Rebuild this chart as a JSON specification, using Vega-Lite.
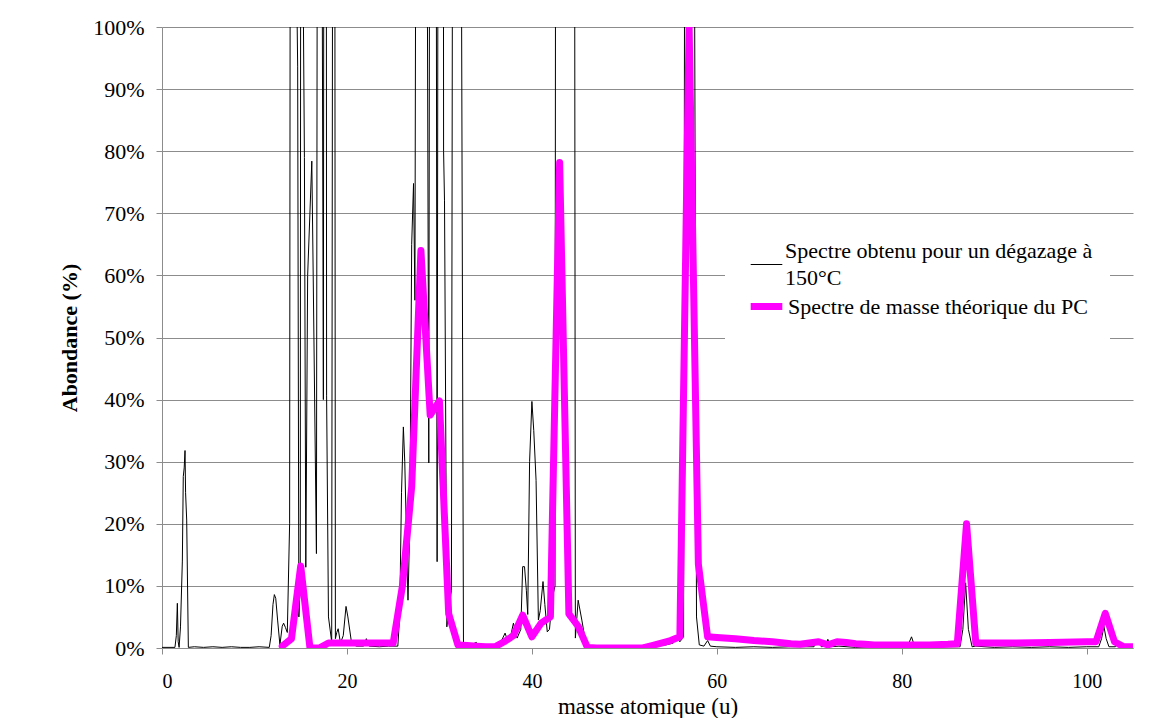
{
  "$schema": "https://vega.github.io/schema/vega-lite/v6.json",
  "width": 971,
  "height": 621,
  "autosize": {"type": "none"},
  "padding": {"left": 162, "top": 27, "right": 27, "bottom": 70},
  "background": "white",
  "config": {
    "view": {"stroke": null},
    "font": "Liberation Serif, Times New Roman, serif",
    "style": {"guide-label": {"font": "Liberation Serif, Times New Roman, serif", "lineHeight": 27}, "guide-title": {"font": "Liberation Serif, Times New Roman, serif"}},
    "axis": {"labelFont": "Liberation Serif, Times New Roman, serif", "titleFont": "Liberation Serif, Times New Roman, serif", "labelColor": "black", "titleColor": "black", "domainColor": "#8c8c8c", "tickColor": "#8c8c8c", "gridColor": "#8c8c8c"}
  },
  "datasets": {
    "spectre": [
      {"m":0,"v":0.1,"s":"obs"},{"m":1.4,"v":0.1,"s":"obs"},{"m":1.55,"v":2,"s":"obs"},{"m":1.66,"v":7.2,"s":"obs"},{"m":1.75,"v":1,"s":"obs"},{"m":1.85,"v":0.1,"s":"obs"},{"m":2.0,"v":3.4,"s":"obs"},{"m":2.2,"v":14,"s":"obs"},{"m":2.3,"v":27.6,"s":"obs"},{"m":2.4,"v":29,"s":"obs"},{"m":2.49,"v":31.8,"s":"obs"},{"m":2.55,"v":25,"s":"obs"},{"m":2.67,"v":20.6,"s":"obs"},{"m":2.85,"v":0.1,"s":"obs"},
      {"m":3.5,"v":0.2,"s":"obs"},{"m":4.5,"v":0.1,"s":"obs"},{"m":5.5,"v":0.2,"s":"obs"},{"m":6.5,"v":0.1,"s":"obs"},{"m":7.5,"v":0.2,"s":"obs"},{"m":8.5,"v":0.1,"s":"obs"},{"m":9.5,"v":0.1,"s":"obs"},{"m":10.5,"v":0.2,"s":"obs"},{"m":11.6,"v":0.1,"s":"obs"},
      {"m":11.8,"v":2,"s":"obs"},{"m":12.0,"v":7,"s":"obs"},{"m":12.15,"v":8.6,"s":"obs"},{"m":12.3,"v":8,"s":"obs"},{"m":12.5,"v":4.5,"s":"obs"},{"m":12.75,"v":0.5,"s":"obs"},{"m":13.0,"v":3.5,"s":"obs"},{"m":13.15,"v":4,"s":"obs"},{"m":13.35,"v":3.3,"s":"obs"},{"m":13.55,"v":2.5,"s":"obs"},
      {"m":13.8,"v":20,"s":"obs"},{"m":13.95,"v":250,"s":"obs"},{"m":14.3,"v":140,"s":"obs"},{"m":14.67,"v":93.7,"s":"obs"},{"m":14.8,"v":5,"s":"obs"},{"m":14.95,"v":10,"s":"obs"},{"m":15.05,"v":250,"s":"obs"},{"m":15.2,"v":120,"s":"obs"},{"m":15.4,"v":79,"s":"obs"},{"m":15.55,"v":13,"s":"obs"},{"m":15.75,"v":60,"s":"obs"},{"m":16.2,"v":78.4,"s":"obs"},{"m":16.35,"v":60,"s":"obs"},{"m":16.7,"v":15.2,"s":"obs"},{"m":16.95,"v":300,"s":"obs"},{"m":17.25,"v":150,"s":"obs"},{"m":17.45,"v":40,"s":"obs"},{"m":17.6,"v":300,"s":"obs"},{"m":17.7,"v":300,"s":"obs"},{"m":17.8,"v":40.6,"s":"obs"},{"m":18.0,"v":5,"s":"obs"},{"m":18.35,"v":1,"s":"obs"},{"m":18.6,"v":300,"s":"obs"},{"m":18.75,"v":1.5,"s":"obs"},
      {"m":18.9,"v":2.5,"s":"obs"},{"m":19.05,"v":3.1,"s":"obs"},{"m":19.3,"v":0.8,"s":"obs"},{"m":19.6,"v":2,"s":"obs"},{"m":19.9,"v":6.7,"s":"obs"},{"m":20.1,"v":5,"s":"obs"},{"m":20.5,"v":0.8,"s":"obs"},{"m":21.0,"v":0.3,"s":"obs"},{"m":21.8,"v":0.3,"s":"obs"},{"m":22.1,"v":1.5,"s":"obs"},{"m":22.4,"v":0.3,"s":"obs"},{"m":23.5,"v":0.2,"s":"obs"},{"m":24.5,"v":0.3,"s":"obs"},{"m":25.5,"v":0.3,"s":"obs"},
      {"m":25.7,"v":5,"s":"obs"},{"m":25.9,"v":25,"s":"obs"},{"m":26.1,"v":35.6,"s":"obs"},{"m":26.25,"v":30,"s":"obs"},{"m":26.6,"v":7.7,"s":"obs"},{"m":26.8,"v":20,"s":"obs"},{"m":27.0,"v":65,"s":"obs"},{"m":27.2,"v":74.8,"s":"obs"},{"m":27.35,"v":56,"s":"obs"},{"m":27.7,"v":300,"s":"obs"},{"m":28.3,"v":300,"s":"obs"},{"m":28.85,"v":29.8,"s":"obs"},{"m":29.1,"v":300,"s":"obs"},{"m":29.5,"v":300,"s":"obs"},{"m":29.75,"v":13.9,"s":"obs"},{"m":30.0,"v":300,"s":"obs"},{"m":30.35,"v":300,"s":"obs"},{"m":30.45,"v":80,"s":"obs"},{"m":30.55,"v":72,"s":"obs"},{"m":30.8,"v":3.4,"s":"obs"},{"m":31.0,"v":6,"s":"obs"},{"m":31.3,"v":9.3,"s":"obs"},{"m":31.6,"v":300,"s":"obs"},{"m":32.0,"v":300,"s":"obs"},{"m":32.6,"v":0.5,"s":"obs"},
      {"m":33.0,"v":0.3,"s":"obs"},{"m":34.0,"v":0.9,"s":"obs"},{"m":34.3,"v":0.2,"s":"obs"},{"m":35.5,"v":0.3,"s":"obs"},{"m":36.5,"v":0.5,"s":"obs"},{"m":37.1,"v":2.4,"s":"obs"},{"m":37.3,"v":1.5,"s":"obs"},{"m":37.6,"v":1.2,"s":"obs"},{"m":38.0,"v":4,"s":"obs"},{"m":38.4,"v":1.6,"s":"obs"},{"m":38.8,"v":3,"s":"obs"},{"m":39.0,"v":13.1,"s":"obs"},{"m":39.2,"v":13.1,"s":"obs"},{"m":39.4,"v":9.3,"s":"obs"},{"m":39.55,"v":5.4,"s":"obs"},{"m":39.75,"v":30,"s":"obs"},{"m":40.0,"v":39.7,"s":"obs"},{"m":40.2,"v":35,"s":"obs"},{"m":40.45,"v":27,"s":"obs"},{"m":40.7,"v":4.5,"s":"obs"},{"m":40.9,"v":6,"s":"obs"},{"m":41.2,"v":10.7,"s":"obs"},{"m":41.4,"v":7,"s":"obs"},{"m":41.66,"v":2.6,"s":"obs"},{"m":41.9,"v":3,"s":"obs"},{"m":42.2,"v":8,"s":"obs"},{"m":42.5,"v":10,"s":"obs"},
      {"m":42.65,"v":300,"s":"obs"},{"m":42.9,"v":150,"s":"obs"},{"m":43.0,"v":300,"s":"obs"},{"m":43.2,"v":200,"s":"obs"},{"m":43.5,"v":150,"s":"obs"},{"m":43.8,"v":300,"s":"obs"},{"m":43.95,"v":250,"s":"obs"},{"m":44.3,"v":120,"s":"obs"},{"m":44.5,"v":300,"s":"obs"},{"m":44.7,"v":1.6,"s":"obs"},{"m":45.0,"v":7.7,"s":"obs"},{"m":45.4,"v":4.5,"s":"obs"},{"m":45.8,"v":1,"s":"obs"},{"m":46.2,"v":0.2,"s":"obs"},
      {"m":47.5,"v":0.1,"s":"obs"},{"m":49,"v":0.2,"s":"obs"},{"m":51,"v":0.1,"s":"obs"},{"m":53,"v":0.2,"s":"obs"},{"m":54.5,"v":0.5,"s":"obs"},{"m":55.3,"v":0.8,"s":"obs"},{"m":55.6,"v":2,"s":"obs"},{"m":56.0,"v":1,"s":"obs"},{"m":56.4,"v":1.8,"s":"obs"},{"m":56.7,"v":300,"s":"obs"},{"m":57.2,"v":300,"s":"obs"},{"m":57.5,"v":150,"s":"obs"},{"m":57.8,"v":5,"s":"obs"},{"m":58.1,"v":0.5,"s":"obs"},{"m":58.6,"v":0.3,"s":"obs"},{"m":59.0,"v":1.2,"s":"obs"},{"m":59.3,"v":0.3,"s":"obs"},
      {"m":60,"v":0.2,"s":"obs"},{"m":62,"v":0.1,"s":"obs"},{"m":64,"v":0.2,"s":"obs"},{"m":66,"v":0.1,"s":"obs"},{"m":68,"v":0.2,"s":"obs"},{"m":70.5,"v":0.2,"s":"obs"},{"m":70.95,"v":1.3,"s":"obs"},{"m":71.3,"v":0.2,"s":"obs"},{"m":71.7,"v":0.3,"s":"obs"},{"m":72.0,"v":1.4,"s":"obs"},{"m":72.3,"v":0.2,"s":"obs"},{"m":73.2,"v":0.3,"s":"obs"},{"m":75,"v":0.1,"s":"obs"},{"m":77,"v":0.2,"s":"obs"},{"m":79,"v":0.1,"s":"obs"},{"m":80.6,"v":0.2,"s":"obs"},{"m":81.05,"v":1.8,"s":"obs"},{"m":81.4,"v":0.2,"s":"obs"},{"m":83,"v":0.1,"s":"obs"},{"m":85,"v":0.2,"s":"obs"},{"m":86.3,"v":0.2,"s":"obs"},{"m":86.6,"v":3,"s":"obs"},{"m":86.9,"v":10.5,"s":"obs"},{"m":87.2,"v":3,"s":"obs"},{"m":87.6,"v":0.2,"s":"obs"},{"m":88,"v":0.3,"s":"obs"},{"m":90,"v":0.1,"s":"obs"},{"m":92,"v":0.2,"s":"obs"},{"m":94,"v":0.1,"s":"obs"},{"m":96,"v":0.2,"s":"obs"},{"m":98,"v":0.1,"s":"obs"},{"m":100,"v":0.2,"s":"obs"},{"m":101.3,"v":0.2,"s":"obs"},{"m":101.6,"v":1.5,"s":"obs"},{"m":101.85,"v":3.5,"s":"obs"},{"m":102.1,"v":1.5,"s":"obs"},{"m":102.4,"v":0.2,"s":"obs"},{"m":103.1,"v":0.2,"s":"obs"},{"m":103.4,"v":0.8,"s":"obs"},{"m":103.7,"v":0.2,"s":"obs"},{"m":105,"v":0.1,"s":"obs"},
      {"m":13,"v":0.3,"s":"th"},{"m":14,"v":1.5,"s":"th"},{"m":15,"v":13.2,"s":"th"},{"m":16,"v":0,"s":"th"},{"m":17,"v":0,"s":"th"},{"m":18,"v":0.8,"s":"th"},{"m":19,"v":0.8,"s":"th"},{"m":20,"v":0.8,"s":"th"},{"m":21,"v":0.8,"s":"th"},{"m":22,"v":0.8,"s":"th"},{"m":23,"v":0.8,"s":"th"},{"m":24,"v":0.8,"s":"th"},{"m":25,"v":0.8,"s":"th"},{"m":26,"v":10,"s":"th"},{"m":27,"v":26,"s":"th"},{"m":28,"v":64,"s":"th"},{"m":29,"v":37.5,"s":"th"},{"m":30,"v":39.8,"s":"th"},{"m":31,"v":5.5,"s":"th"},{"m":32,"v":0.5,"s":"th"},{"m":33,"v":0.4,"s":"th"},{"m":34,"v":0.3,"s":"th"},{"m":35,"v":0.2,"s":"th"},{"m":36,"v":0.2,"s":"th"},{"m":37,"v":1,"s":"th"},{"m":38,"v":2,"s":"th"},{"m":39,"v":5.3,"s":"th"},{"m":40,"v":1.8,"s":"th"},{"m":41,"v":4,"s":"th"},{"m":42,"v":5,"s":"th"},{"m":43,"v":78.2,"s":"th"},{"m":44,"v":5.5,"s":"th"},{"m":45,"v":3.5,"s":"th"},{"m":46,"v":0.1,"s":"th"},{"m":47,"v":0,"s":"th"},{"m":48,"v":0,"s":"th"},{"m":49,"v":0,"s":"th"},{"m":50,"v":0,"s":"th"},{"m":51,"v":0,"s":"th"},{"m":52,"v":0,"s":"th"},{"m":53,"v":0.4,"s":"th"},{"m":54,"v":0.8,"s":"th"},{"m":55,"v":1.2,"s":"th"},{"m":56,"v":1.8,"s":"th"},{"m":57,"v":100,"s":"th"},{"m":58,"v":13.5,"s":"th"},{"m":59,"v":1.8,"s":"th"},{"m":60,"v":1.7,"s":"th"},{"m":62,"v":1.5,"s":"th"},{"m":64,"v":1.2,"s":"th"},{"m":66,"v":1.0,"s":"th"},{"m":68,"v":0.7,"s":"th"},{"m":69,"v":0.6,"s":"th"},{"m":70,"v":0.8,"s":"th"},{"m":71,"v":1.0,"s":"th"},{"m":72,"v":0.5,"s":"th"},{"m":73,"v":1.0,"s":"th"},{"m":74,"v":0.9,"s":"th"},{"m":75,"v":0.7,"s":"th"},{"m":76,"v":0.6,"s":"th"},{"m":77,"v":0.5,"s":"th"},{"m":80,"v":0.5,"s":"th"},{"m":83,"v":0.5,"s":"th"},{"m":85,"v":0.6,"s":"th"},{"m":86,"v":0.7,"s":"th"},{"m":87,"v":20,"s":"th"},{"m":88,"v":0.8,"s":"th"},{"m":92,"v":0.8,"s":"th"},{"m":96,"v":0.9,"s":"th"},{"m":100,"v":1.0,"s":"th"},{"m":101,"v":1.0,"s":"th"},{"m":102,"v":5.6,"s":"th"},{"m":103,"v":1.0,"s":"th"},{"m":104,"v":0.2,"s":"th"},{"m":105,"v":0.2,"s":"th"}
    ]
  },
  "data": {"name": "spectre"},
  "encoding": {
    "x": {
      "field": "m", "type": "quantitative",
      "scale": {"domain": [0, 105], "nice": false, "zero": false},
      "axis": {"title": "masse atomique (u)", "values": [0, 20, 40, 60, 80, 100], "grid": false, "tickSize": 6, "labelFontSize": 20, "labelPadding": 17, "titleFontSize": 23, "titleFontWeight": "normal", "titlePadding": 4, "domainColor": "#8c8c8c"}
    },
    "y": {
      "field": "v", "type": "quantitative",
      "scale": {"domain": [0, 100], "nice": false},
      "axis": {"title": "Abondance (%)", "values": [0, 10, 20, 30, 40, 50, 60, 70, 80, 90, 100], "labelExpr": "datum.value + '%'", "grid": true, "tickSize": 6, "labelFontSize": 22, "labelPadding": 12, "titleFontSize": 22, "titleFontWeight": "bold", "titlePadding": 11}
    },
    "color": {
      "field": "s", "type": "nominal",
      "scale": {"domain": ["obs", "th"], "range": ["#000000", "#ff00ff"]},
      "legend": {
        "title": null, "orient": "none", "legendX": 584, "legendY": 217, "values": ["obs"], "zindex": 2,
        "fillColor": "white", "padding": 4, "symbolType": "stroke", "symbolSize": 1000, "symbolStrokeWidth": 1,
        "labelFont": "Liberation Serif, Times New Roman, serif", "labelFontSize": 22, "labelColor": "black", "labelLimit": 0, "labelOffset": 2, "labelBaseline": "line-bottom",
        "labelExpr": "['Spectre obtenu pour un dégazage à', '150°C']"
      }
    },
    "strokeWidth": {
      "field": "s", "type": "nominal",
      "scale": {"domain": ["th", "obs"], "range": [7, 1]},
      "legend": {
        "title": null, "orient": "none", "legendX": 563, "legendY": 238, "values": ["th"], "zindex": 1,
        "fillColor": "white", "padding": 22, "symbolType": "stroke", "symbolSize": 1000, "symbolStrokeColor": "#ff00ff",
        "labelFont": "Liberation Serif, Times New Roman, serif", "labelFontSize": 22, "labelColor": "black", "labelLimit": 0, "labelOffset": 2, "labelBaseline": "middle",
        "labelExpr": "'Spectre de masse théorique du PC'"
      }
    }
  },
  "layer": [
    {"transform": [{"filter": "datum.s == 'obs'"}], "mark": {"type": "line", "clip": true, "strokeJoin": "miter"}},
    {"transform": [{"filter": "datum.s == 'th'"}], "mark": {"type": "line", "clip": true, "strokeJoin": "round", "strokeCap": "round"}}
  ]
}
